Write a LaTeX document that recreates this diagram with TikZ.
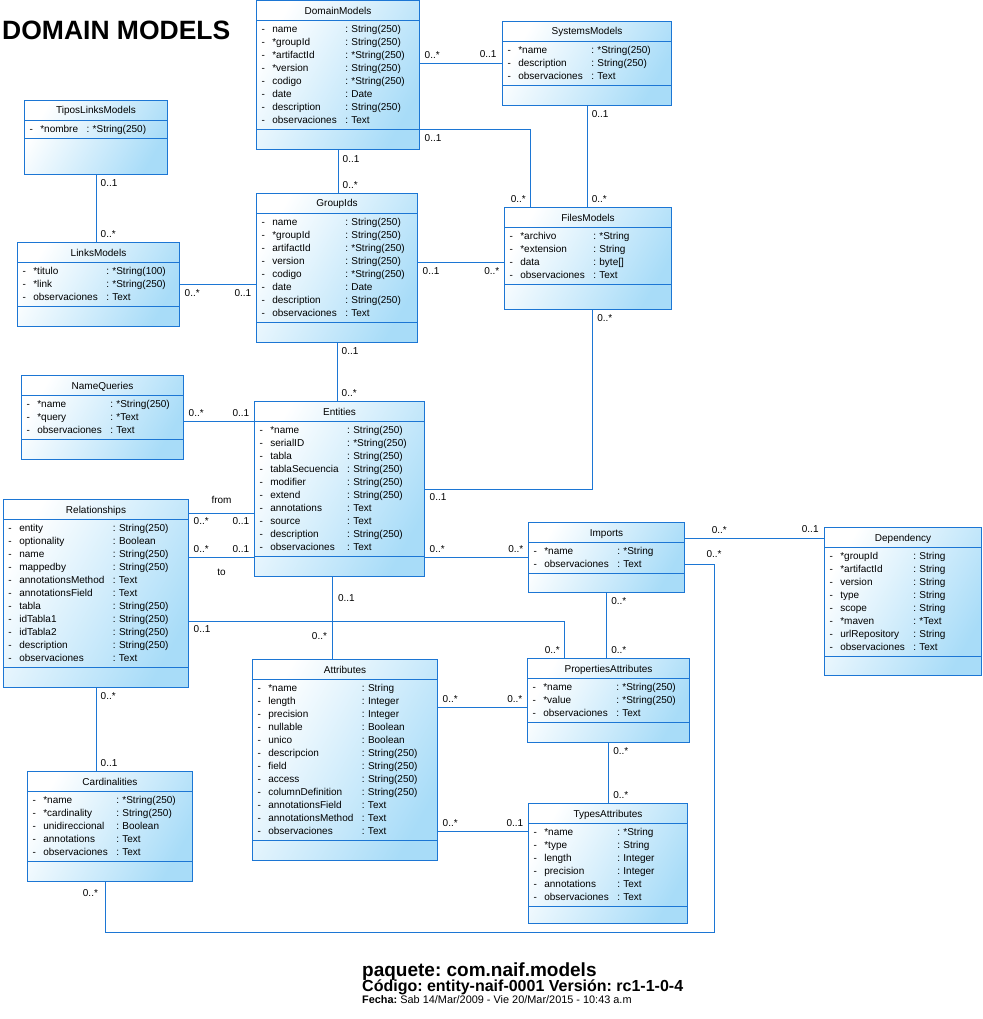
\documentclass[tikz,border=0pt]{standalone}
\usepackage{fontspec}
\setmainfont{Liberation Sans}
\frenchspacing
\usetikzlibrary{positioning,shapes.multipart}

\definecolor{umlline}{RGB}{28,118,212}
\definecolor{umlfill}{RGB}{168,220,248}

\newcommand{\clsname}[1]{\centering\rule[-4pt]{0pt}{15pt}#1\par}
\newcommand{\clsfoot}[1]{\rule{0pt}{#1}}
\newenvironment{attrlist}{\fontsize{10}{13}\selectfont\begin{tabular}{@{}l@{\hspace{7.5pt}}l@{\hspace{8.5pt}}l@{}}}{\end{tabular}}
\newcommand{\attrow}[2]{- & #1 & : #2\\}

\tikzset{
  umlclass/.style={rectangle split, rectangle split parts=3, draw=umlline, line width=1pt,
    top color=white, bottom color=umlfill, shading angle=60,
    anchor=north west, inner xsep=5pt, inner ysep=2pt, font=\fontsize{10}{13}\selectfont},
  assoc/.style={draw=umlline, line width=1pt},
  mult/.style={font=\fontsize{10}{12}\selectfont, inner sep=0pt},
  bigtitle/.style={anchor=base west, inner sep=0pt, font=\bfseries}
}

\begin{document}
\begin{tikzpicture}[x=1pt,y=-1pt]
\fill[white] (0,0) rectangle (982,1019);

\node[bigtitle, font=\fontsize{26.5}{30}\selectfont\bfseries] (title) at (2,40) {DOMAIN MODELS};

% classes
\node[umlclass, text width=153pt] (dm) at (256,0.5) {\clsname{DomainModels}\nodepart{two}\begin{attrlist}
  \attrow{name}{String(250)}
  \attrow{*groupId}{String(250)}
  \attrow{*artifactId}{*String(250)}
  \attrow{*version}{String(250)}
  \attrow{codigo}{*String(250)}
  \attrow{date}{Date}
  \attrow{description}{String(250)}
  \attrow{observaciones}{Text}
\end{attrlist}\nodepart{three}\clsfoot{15pt}};

\node[umlclass, text width=159pt] (sm) at (502,21) {\clsname{SystemsModels}\nodepart{two}\begin{attrlist}
  \attrow{*name}{*String(250)}
  \attrow{description}{String(250)}
  \attrow{observaciones}{Text}
\end{attrlist}\nodepart{three}\clsfoot{15pt}};

\node[umlclass, text width=133pt] (tlm) at (24,100) {\clsname{TiposLinksModels}\nodepart{two}\begin{attrlist}
  \attrow{*nombre}{*String(250)}
\end{attrlist}\nodepart{three}\clsfoot{31pt}};

\node[umlclass, text width=152pt] (lm) at (17,242) {\clsname{LinksModels}\nodepart{two}\begin{attrlist}
  \attrow{*titulo}{*String(100)}
  \attrow{*link}{*String(250)}
  \attrow{observaciones}{Text}
\end{attrlist}\nodepart{three}\clsfoot{15pt}};

\node[umlclass, text width=151pt] (gid) at (256,193) {\clsname{GroupIds}\nodepart{two}\begin{attrlist}
  \attrow{name}{String(250)}
  \attrow{*groupId}{String(250)}
  \attrow{artifactId}{*String(250)}
  \attrow{version}{String(250)}
  \attrow{codigo}{*String(250)}
  \attrow{date}{Date}
  \attrow{description}{String(250)}
  \attrow{observaciones}{Text}
\end{attrlist}\nodepart{three}\clsfoot{15pt}};

\node[umlclass, text width=157pt] (fm) at (504,207) {\clsname{FilesModels}\nodepart{two}\begin{attrlist}
  \attrow{*archivo}{*String}
  \attrow{*extension}{String}
  \attrow{data}{byte[]}
  \attrow{observaciones}{Text}
\end{attrlist}\nodepart{three}\clsfoot{20pt}};

\node[umlclass, text width=152pt] (nq) at (21,375) {\clsname{NameQueries}\nodepart{two}\begin{attrlist}
  \attrow{*name}{*String(250)}
  \attrow{*query}{*Text}
  \attrow{observaciones}{Text}
\end{attrlist}\nodepart{three}\clsfoot{15pt}};

\node[umlclass, text width=160pt] (ent) at (254,401) {\clsname{Entities}\nodepart{two}\begin{attrlist}
  \attrow{*name}{String(250)}
  \attrow{serialID}{*String(250)}
  \attrow{tabla}{String(250)}
  \attrow{tablaSecuencia}{String(250)}
  \attrow{modifier}{String(250)}
  \attrow{extend}{String(250)}
  \attrow{annotations}{Text}
  \attrow{source}{Text}
  \attrow{description}{String(250)}
  \attrow{observaciones}{Text}
\end{attrlist}\nodepart{three}\clsfoot{15pt}};

\node[umlclass, text width=175pt] (rel) at (3,499) {\clsname{Relationships}\nodepart{two}\begin{attrlist}
  \attrow{entity}{String(250)}
  \attrow{optionality}{Boolean}
  \attrow{name}{String(250)}
  \attrow{mappedby}{String(250)}
  \attrow{annotationsMethod}{Text}
  \attrow{annotationsField}{Text}
  \attrow{tabla}{String(250)}
  \attrow{idTabla1}{String(250)}
  \attrow{idTabla2}{String(250)}
  \attrow{description}{String(250)}
  \attrow{observaciones}{Text}
\end{attrlist}\nodepart{three}\clsfoot{15pt}};

\node[umlclass, text width=175pt] (attr) at (252,659) {\clsname{Attributes}\nodepart{two}\begin{attrlist}
  \attrow{*name}{String}
  \attrow{length}{Integer}
  \attrow{precision}{Integer}
  \attrow{nullable}{Boolean}
  \attrow{unico}{Boolean}
  \attrow{descripcion}{String(250)}
  \attrow{field}{String(250)}
  \attrow{access}{String(250)}
  \attrow{columnDefinition}{String(250)}
  \attrow{annotationsField}{Text}
  \attrow{annotationsMethod}{Text}
  \attrow{observaciones}{Text}
\end{attrlist}\nodepart{three}\clsfoot{15pt}};

\node[umlclass, text width=152pt] (pa) at (527,658) {\clsname{PropertiesAttributes}\nodepart{two}\begin{attrlist}
  \attrow{*name}{*String(250)}
  \attrow{*value}{*String(250)}
  \attrow{observaciones}{Text}
\end{attrlist}\nodepart{three}\clsfoot{15pt}};

\node[umlclass, text width=149pt] (ta) at (528,803) {\clsname{TypesAttributes}\nodepart{two}\begin{attrlist}
  \attrow{*name}{*String}
  \attrow{*type}{String}
  \attrow{length}{Integer}
  \attrow{precision}{Integer}
  \attrow{annotations}{Text}
  \attrow{observaciones}{Text}
\end{attrlist}\nodepart{three}\clsfoot{12pt}};

\node[umlclass, text width=146pt] (imp) at (528,522) {\clsname{Imports}\nodepart{two}\begin{attrlist}
  \attrow{*name}{*String}
  \attrow{observaciones}{Text}
\end{attrlist}\nodepart{three}\clsfoot{14pt}};

\node[umlclass, text width=147pt] (dep) at (824,527) {\clsname{Dependency}\nodepart{two}\begin{attrlist}
  \attrow{*groupId}{String}
  \attrow{*artifactId}{String}
  \attrow{version}{String}
  \attrow{type}{String}
  \attrow{scope}{String}
  \attrow{*maven}{*Text}
  \attrow{urlRepository}{String}
  \attrow{observaciones}{Text}
\end{attrlist}\nodepart{three}\clsfoot{14pt}};

\node[umlclass, text width=155pt] (card) at (27,771) {\clsname{Cardinalities}\nodepart{two}\begin{attrlist}
  \attrow{*name}{*String(250)}
  \attrow{*cardinality}{String(250)}
  \attrow{unidireccional}{Boolean}
  \attrow{annotations}{Text}
  \attrow{observaciones}{Text}
\end{attrlist}\nodepart{three}\clsfoot{15pt}};

% connection points
\coordinate (fmin) at ([yshift=-4pt]fm.west);
\coordinate (relfrom) at ([yshift=-14pt]rel.north east);
\coordinate (relto) at ([yshift=-58pt]rel.north east);
\coordinate (impdep) at ([yshift=-16pt]imp.north east);
\coordinate (imploop) at ([yshift=-42pt]imp.north east);
\coordinate (loopcorner) at (714,932);
\coordinate (entattr) at ([xshift=-7pt]ent.south);
\coordinate (relpa) at ([yshift=-122pt]rel.north east);
\coordinate (paattr) at ([yshift=-49pt]pa.north west);
\coordinate (taattr) at ([yshift=-28pt]ta.north west);

% associations
\draw[assoc] (sm.west -| dm.east) -- node[mult, pos=0, above right=6pt] {0..*} node[mult, pos=1, above left=7pt] {0..1} (sm.west);
\draw[assoc] (dm.two split east) -| node[mult, pos=0, below right=6pt] {0..1} node[mult, pos=1, above left=6pt] {0..*} ([xshift=-57.5pt]fm.north);
\draw[assoc] (sm.south) -- node[mult, pos=0, below right=6pt] {0..1} node[mult, pos=1, above right=6pt] {0..*} (sm.south |- fm.north);
\draw[assoc] (dm.south) -- node[mult, pos=0, below right=6pt] {0..1} node[mult, pos=1, above right=6pt] {0..*} (dm.south |- gid.north);
\draw[assoc] (tlm.south) -- node[mult, pos=0, below right=6pt] {0..1} node[mult, pos=1, above right=6pt] {0..*} (tlm.south |- lm.north);
\draw[assoc] (lm.east) -- node[mult, pos=0, below right=6pt] {0..*} node[mult, pos=1, below left=6pt] {0..1} (lm.east -| gid.west);
\draw[assoc] (fmin -| gid.east) -- node[mult, pos=0, below right=6pt] {0..1} node[mult, pos=1, below left=6pt] {0..*} (fmin);
\draw[assoc] (gid.south) -- node[mult, pos=0, below right=6pt] {0..1} node[mult, pos=1, above right=6pt] {0..*} (gid.south |- ent.north);
\draw[assoc] (ent.text split west -| nq.east) -- node[mult, pos=0, above right=6pt] {0..*} node[mult, pos=1, above left=6pt] {0..1} (ent.text split west);
\draw[assoc] (ent.east) -| node[mult, pos=0, below right=6pt] {0..1} node[mult, pos=1, below right=6pt] {0..*} ([xshift=4.5pt]fm.south);
\draw[assoc] (relfrom) -- node[mult, pos=0, below right=6pt] {0..*} node[mult, pos=1, below left=6pt] {0..1} node[mult, midway, above=9pt] {from} (relfrom -| ent.west);
\draw[assoc] (relto) -- node[mult, pos=0, above right=6pt] {0..*} node[mult, pos=1, above left=6pt] {0..1} node[mult, midway, below=12pt] {to} (relto -| ent.west);
\draw[assoc] (imp.west -| ent.east) -- node[mult, pos=0, above right=6pt] {0..*} node[mult, pos=1, above left=6pt] {0..*} (imp.west);
\draw[assoc] (impdep) -- node[mult, pos=0, above right=6pt, xshift=22pt] {0..*} node[mult, pos=1, above left=7pt] {0..1} (impdep -| dep.west);
\draw[assoc] (imploop) -| node[mult, pos=0.5, above=6pt] {0..*} (loopcorner) -| node[mult, pos=1, below left=10pt] {0..*} ([xshift=-4.5pt]card.south);
\draw[assoc] (entattr) -- node[mult, pos=0.26, right=5pt] {0..1} node[mult, pos=0.72, left=5pt] {0..*} (entattr |- attr.north);
\draw[assoc] (relpa) -| node[mult, pos=0, below right=6pt] {0..1} node[mult, pos=1, above left=6pt] {0..*} ([xshift=-44pt]pa.north);
\draw[assoc] (imp.south) -- node[mult, pos=0, below right=6pt] {0..*} node[mult, pos=1, above right=6pt] {0..*} (imp.south |- pa.north);
\draw[assoc] (paattr -| attr.east) -- node[mult, pos=0, above right=6pt] {0..*} node[mult, pos=1, above left=6pt] {0..*} (paattr);
\draw[assoc] (pa.south) -- node[mult, pos=0, below right=6pt] {0..*} node[mult, pos=1, above right=6pt] {0..*} (pa.south |- ta.north);
\draw[assoc] (taattr -| attr.east) -- node[mult, pos=0, above right=6pt] {0..*} node[mult, pos=1, above left=6pt] {0..1} (taattr);
\draw[assoc] (rel.south) -- node[mult, pos=0, below right=6pt] {0..*} node[mult, pos=1, above right=6pt] {0..1} (rel.south |- card.north);

% footer
\node[bigtitle, font=\fontsize{19}{22}\selectfont\bfseries] (pkg) at (362,976) {paquete: com.naif.models};
\node[bigtitle, font=\fontsize{16}{19}\selectfont\bfseries] (code) at ([yshift=-15pt]pkg.base west) {Código: entity-naif-0001 Versión: rc1-1-0-4};
\node[bigtitle, font=\fontsize{10.9}{12}\selectfont] (date) at ([yshift=-12.5pt]code.base west) {\textbf{Fecha:} Sab 14/Mar/2009 - Vie 20/Mar/2015 - 10:43 a.m};
\end{tikzpicture}
\end{document}
